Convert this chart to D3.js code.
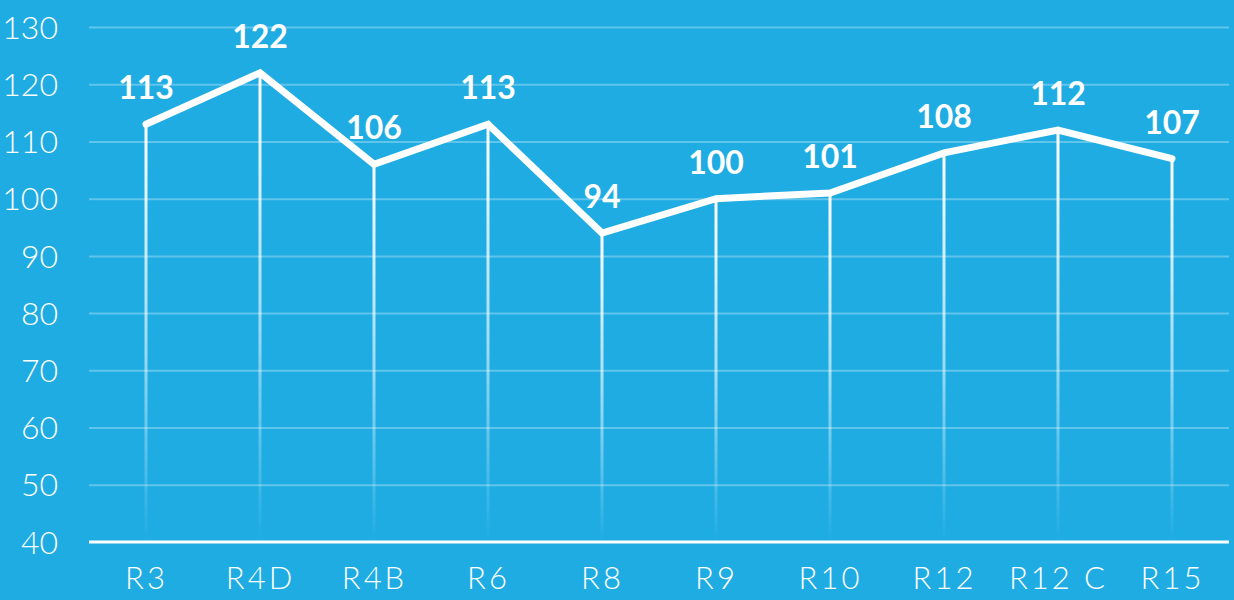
<!DOCTYPE html>
<html><head><meta charset="utf-8">
<script src="https://cdn.jsdelivr.net/npm/d3@7"></script>
<style>
html,body{margin:0;padding:0;background:#1eace3;}
svg{display:block;}
</style></head>
<body>
<svg id="chart" width="1234" height="600"></svg>
<script>
const categories = ["R3","R4D","R4B","R6","R8","R9","R10","R12","R12 C","R15"];
const values = [113,122,106,113,94,100,101,108,112,107];
const yTicks = [40,50,60,70,80,90,100,110,120,130];

const W = 1234, H = 600;
const mLeft = 89, mRight = 1229, mTop = 27, mBottom = 542;
const svg = d3.select("#chart");
svg.append("rect").attr("width",W).attr("height",H).attr("fill","#1eace3");

const x = d3.scalePoint().domain(categories).range([mLeft,mRight]).padding(0.5);
const y = d3.scaleLinear().domain([40,130]).range([mBottom,mTop]);

const defs = svg.append("defs");
const grad = defs.append("linearGradient").attr("id","fade")
  .attr("x1",0).attr("y1",0).attr("x2",0).attr("y2",1);
grad.append("stop").attr("offset","0%").attr("stop-color","#fff").attr("stop-opacity",1);
grad.append("stop").attr("offset","55%").attr("stop-color","#fff").attr("stop-opacity",0.55);
grad.append("stop").attr("offset","100%").attr("stop-color","#fff").attr("stop-opacity",0);

const font = "Lato, 'Open Sans', sans-serif";

// horizontal grid
const yAxis = d3.axisLeft(y).tickValues(yTicks).tickSize(-(mRight-mLeft)).tickPadding(31);
const gy = svg.append("g").attr("transform",`translate(${mLeft},0)`).call(yAxis);
gy.select(".domain").remove();
gy.selectAll(".tick line").attr("stroke","rgba(255,255,255,0.3)").attr("stroke-width",2)
  .filter(d=>d===40).remove();
gy.selectAll(".tick text").attr("fill","#fff").attr("font-family",font)
  .attr("font-weight",300).attr("font-size",32).attr("dy","0.35em");

// drop lines
svg.append("g").selectAll("rect").data(values).join("rect")
  .attr("x",(d,i)=>x(categories[i])-1.5).attr("width",3)
  .attr("y",d=>y(d)).attr("height",d=>mBottom-y(d))
  .attr("fill","url(#fade)");

// baseline
svg.append("line").attr("x1",mLeft).attr("x2",mRight).attr("y1",mBottom).attr("y2",mBottom)
  .attr("stroke","#fff").attr("stroke-width",3);

// x axis labels
const xAxis = d3.axisBottom(x).tickSize(0).tickPadding(28);
const gx = svg.append("g").attr("transform",`translate(0,${mBottom})`).call(xAxis);
gx.select(".domain").remove();
gx.selectAll(".tick text").attr("fill","#fff").attr("font-family",font)
  .attr("font-weight",300).attr("font-size",31).attr("letter-spacing","3px")
  .attr("dy","0.6em");

// line
const line = d3.line().x((d,i)=>x(categories[i])).y(d=>y(d));
svg.append("path").datum(values).attr("d",line).attr("fill","none")
  .attr("stroke","#fff").attr("stroke-width",7).attr("stroke-linejoin","miter")
  .attr("stroke-linecap","round");

// value labels
svg.append("g").selectAll("text").data(values).join("text")
  .attr("x",(d,i)=>x(categories[i])).attr("y",d=>y(d)-25)
  .attr("text-anchor","middle").attr("fill","#fff").attr("font-family",font)
  .attr("font-weight",700).attr("font-size",32).text(d=>d);
</script>
</body></html>
